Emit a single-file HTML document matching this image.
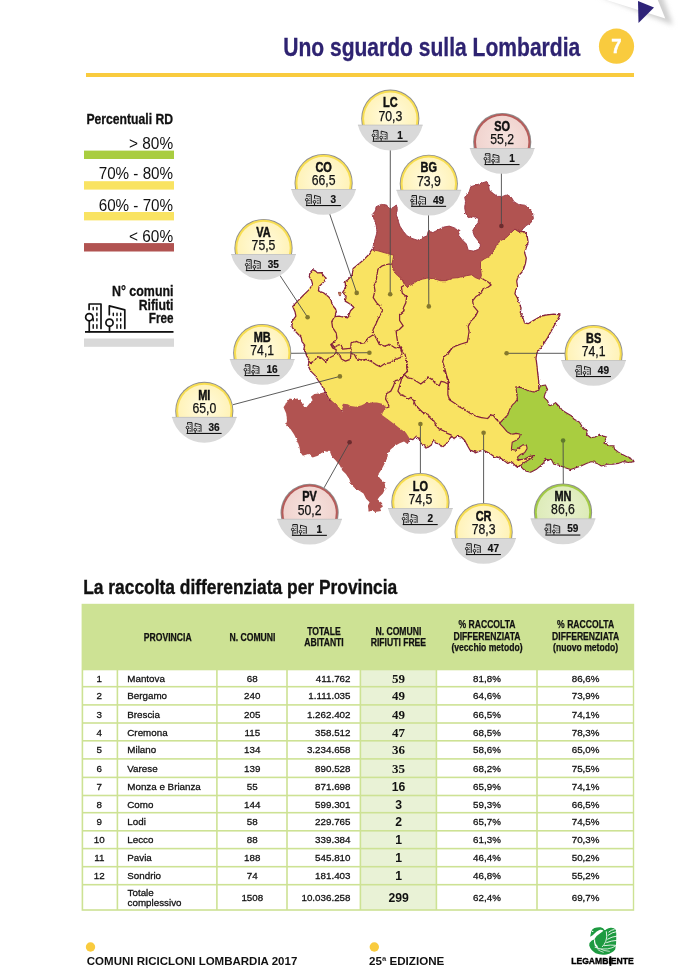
<!DOCTYPE html>
<html lang="it"><head><meta charset="utf-8"><title>Uno sguardo sulla Lombardia</title>
<style>html,body{margin:0;padding:0;background:#fff}body{width:681px;height:975px;overflow:hidden;position:relative}svg{position:absolute;left:0;top:0;display:block}text{font-family:"Liberation Sans",sans-serif}.sf{font-family:"Liberation Serif",serif}</style></head><body>
<svg width="681" height="975" viewBox="0 0 681 975">
<defs>
<radialGradient id="gy" cx="50%" cy="45%" r="60%"><stop offset="0" stop-color="#FFFBE2"/><stop offset="1" stop-color="#FFF1B0"/></radialGradient>
<radialGradient id="gr" cx="50%" cy="45%" r="60%"><stop offset="0" stop-color="#F6E3DF"/><stop offset="1" stop-color="#EFD0CB"/></radialGradient>
<radialGradient id="gg" cx="50%" cy="45%" r="60%"><stop offset="0" stop-color="#E8F1CF"/><stop offset="1" stop-color="#DBEAB4"/></radialGradient>
<linearGradient id="curl" x1="0" y1="0" x2="0.25" y2="1"><stop offset="0" stop-color="#d8d8d8"/><stop offset="0.6" stop-color="#efefef"/><stop offset="1" stop-color="#ffffff"/></linearGradient>
<g id="ico" fill="none" stroke="#111" stroke-width="1.7" stroke-linecap="round" stroke-linejoin="round">
 <path d="M4.1 11.5V6H16V30.4"/>
 <path d="M24.3 16.7V7.9L39.8 11.9V30.4"/>
 <g stroke-width="1.45">
 <path d="M8.2 9.5v2.2M11.9 9.5v2.2M11.9 15.2v2.2M8.2 20.6v2.2M11.9 20.6v2.2M8.2 26.6v3.6M11.9 26.6v3.6"/>
 <path d="M28.3 15.2v2.2M32 15.2v2.2M35.7 15.2v2.2M32 20.6v2.2M35.7 20.6v2.2M32 26.6v3.6M35.7 26.6v3.6"/>
 </g>
 <circle cx="4.25" cy="19.2" r="3.6" fill="#fff"/><path d="M4.25 22.8V33.5"/>
 <circle cx="24.5" cy="24.7" r="3.6" fill="#fff"/><path d="M24.5 28.3V33.5"/>
</g>
<g id="icos" fill="none" stroke="#111" stroke-width="0.95">
 <path d="M1.6 4.3V2.3H6.1V11.5M9.3 6.3V3L15.1 4.5V11.5"/>
 <path d="M3.1 3.6v.9M4.5 3.6v.9M4.5 5.8v.9M3.1 7.8v.9M4.5 7.8v.9M3.1 10v1.4M4.5 10v1.4M10.8 5.8v.9M12.2 5.8v.9M13.6 5.8v.9M12.2 7.8v.9M13.6 7.8v.9M12.2 10v1.4M13.6 10v1.4" stroke-width="0.8"/>
 <circle cx="1.6" cy="7.3" r="1.35" fill="#d9d9d9"/><path d="M1.6 8.7V12.7"/>
 <circle cx="9.3" cy="9.4" r="1.35" fill="#d9d9d9"/><path d="M9.3 10.8V12.7"/>
</g>
</defs>
<rect width="681" height="975" fill="#fff"/>
<filter id="bl" x="-20%" y="-50%" width="140%" height="200%"><feGaussianBlur stdDeviation="2.6"/></filter>
<polygon points="598,-5 662,-5 673,25 640,12" fill="#cfcfcf" filter="url(#bl)"/>
<polygon points="600,-2 657,-2 665.3,18.5" fill="#fff"/>
<polygon points="638,1 654,7.6 638.5,23" fill="#2E2378"/>
<text x="283.2" y="55.6" font-size="25" font-weight="bold" fill="#2E2371" text-anchor="start" textLength="297.0" lengthAdjust="spacingAndGlyphs" stroke="#2E2371" stroke-width="0.3">Uno sguardo sulla Lombardia</text>
<circle cx="616.5" cy="46.2" r="17.6" fill="#F9CB3E"/>
<text x="616.3" y="52.5" font-size="20.5" font-weight="bold" fill="#fff" text-anchor="middle" textLength="10.3" lengthAdjust="spacingAndGlyphs" stroke="#fff" stroke-width="0.5">7</text>
<rect x="86" y="73" width="548" height="4" fill="#F9CB3E"/>
<text x="86.4" y="123.5" font-size="14.8" font-weight="bold" fill="#111" text-anchor="start" textLength="86.7" lengthAdjust="spacingAndGlyphs" stroke="#111" stroke-width="0.3">Percentuali RD</text>
<text x="129.0" y="148.5" font-size="16.7" fill="#111" text-anchor="start" textLength="44.1" lengthAdjust="spacingAndGlyphs" >&gt; 80%</text>
<rect x="84" y="150.6" width="90" height="8.4" fill="#A9CD40"/>
<text x="98.7" y="179.3" font-size="16.7" fill="#111" text-anchor="start" textLength="74.4" lengthAdjust="spacingAndGlyphs" >70% - 80%</text>
<rect x="84" y="181.2" width="90" height="8.4" fill="#F9E362"/>
<text x="98.7" y="210.5" font-size="16.7" fill="#111" text-anchor="start" textLength="74.4" lengthAdjust="spacingAndGlyphs" >60% - 70%</text>
<rect x="84" y="212" width="90" height="8.4" fill="#F9E362"/>
<text x="129.0" y="241.5" font-size="16.7" fill="#111" text-anchor="start" textLength="44.1" lengthAdjust="spacingAndGlyphs" >&lt; 60%</text>
<rect x="84" y="243.1" width="90" height="8.4" fill="#B15351"/>
<text x="112.0" y="295.7" font-size="14.8" font-weight="bold" fill="#111" text-anchor="start" textLength="61.5" lengthAdjust="spacingAndGlyphs" stroke="#111" stroke-width="0.3">N° comuni</text>
<text x="138.7" y="309.5" font-size="14.8" font-weight="bold" fill="#111" text-anchor="start" textLength="34.8" lengthAdjust="spacingAndGlyphs" stroke="#111" stroke-width="0.3">Rifiuti</text>
<text x="148.8" y="323.0" font-size="14.8" font-weight="bold" fill="#111" text-anchor="start" textLength="24.7" lengthAdjust="spacingAndGlyphs" stroke="#111" stroke-width="0.3">Free</text>
<use href="#ico" x="85" y="298"/>
<rect x="85" y="331" width="88.5" height="1.8" fill="#111"/>
<rect x="84" y="338.5" width="90" height="8.3" fill="#D9D9D9"/>
<filter id="jag" x="-2%" y="-2%" width="104%" height="104%"><feTurbulence type="fractalNoise" baseFrequency="0.32" numOctaves="2" seed="7" result="n"/><feDisplacementMap in="SourceGraphic" in2="n" scale="2.6" xChannelSelector="R" yChannelSelector="G"/></filter>
<g filter="url(#jag)">
<polygon points="312.6,269.7 315.2,270.8 317.4,272.9 321.4,272.6 324.1,276.4 326.2,278.2 323.2,282.6 319.1,286.5 318.4,290.9 324.1,293.2 328.5,296.7 331.1,300.2 332.0,304.6 335.5,309.0 336.4,311.7 335.0,316.6 339.0,316.1 342.6,317.0 347.8,317.8 350.5,310.8 354.0,307.3 349.6,303.7 345.2,301.1 346.1,296.2 342.6,292.3 345.6,287.9 345.2,281.7 348.7,279.1 352.2,274.7 353.1,268.5 357.5,265.0 362.8,260.6 368.1,255.3 371.6,250.0 380,240 400,250 420,270 470,265 485,248 505,235 514.9,229.0 519.3,231.7 524.6,231.7 527.2,236.1 528.1,242.2 526.3,247.5 524.6,252.8 526.3,258.1 525.5,263.4 523.7,268.7 521.9,272.2 518.4,275.7 516.7,281.0 517.5,286.3 515.8,290.0 514.9,293.8 517.5,298.2 519.3,303.5 521.1,307.9 520.2,313.2 522.8,317.6 524.6,322.9 528.1,323.7 532.5,321.1 536.9,318.5 541.3,315.8 547.5,314.9 553.7,314.1 560.0,314.9 558.1,318.5 552.8,328.1 547.5,337.8 542.2,345.8 536.9,352.8 536.0,358.1 536.9,365.2 537.8,374.0 538.7,381.0 538.7,390.0 545,400 540,440 538,455 522,466 520.2,466.0 516.7,466.9 514.0,464.3 511.4,461.6 507.8,463.4 505.2,461.6 501.7,459.0 498.1,457.2 493.7,456.3 490.2,453.7 486.7,451.9 483.2,450.2 479.6,451.1 475.2,452.8 474.5,451.9 470.1,450.2 467.5,445.8 464.8,440.5 461.3,437.0 456.9,436.1 454.3,438.7 451.6,436.1 449.0,439.6 446.3,444.0 441.9,447.5 439.3,444.0 435.8,443.1 433.1,439.6 431.4,444.9 427.8,447.5 424.3,445.8 420.8,443.1 419.0,438.7 416.4,436.1 412.9,439.6 409.3,438.7 407.6,443.1 395,430 370,420 340,410 328.5,398.5 326.2,394.1 324.1,389.6 320.5,383.5 317.9,380.0 315.2,375.6 310.8,371.1 308.2,365.9 309.1,360.6 306.4,355.3 304.7,350.0 308.2,359.3 306.4,354.0 303.8,349.6 304.7,345.2 302.0,341.6 301.1,337.2 296.7,332.8 292.3,327.5 291.5,322.2 295.9,316.1 295.0,311.7 292.7,306.4 297.6,301.1 302.9,295.8 309.1,289.6 312.6,284.4 311.7,280.8 309.1,276.4 310.0,272.9" fill="#F9E362" stroke="#84203E" stroke-width="1.25" stroke-linejoin="round" />
<polyline points="334.4,317.0 331.7,321.5 332.6,327.6 336.1,332.9 337.0,338.2 334.4,341.7 330.8,344.4 332.6,347.9 336.1,349.6 336.1,352.3" fill="none" stroke="#84203E" stroke-width="1.25" stroke-linejoin="round"/>
<polyline points="336.1,352.3 333.5,355.8 328.2,358.5 325.6,361.5 321.1,357.6 317.6,356.7 314.1,361.1 310.6,362.9 308.5,361.1" fill="none" stroke="#84203E" stroke-width="1.25" stroke-linejoin="round"/>
<polyline points="330.8,344.4 334.4,347.4 337.9,345.2 341.4,344.4 342.3,349.1 350.7,348.4" fill="none" stroke="#84203E" stroke-width="1.25" stroke-linejoin="round"/>
<polyline points="336.1,352.3 339.6,354.1 341.4,359.0 345.5,361.1 350.2,359.3 351.1,353.2" fill="none" stroke="#84203E" stroke-width="1.25" stroke-linejoin="round"/>
<polyline points="351.1,342.6 356.4,341.4 360.8,343.5 365.2,342.6 367.8,338.2 374.0,334.3 376.7,339.1 379.3,344.4 384.6,346.1 389.9,344.4 395.2,347.9 400.4,347.4 402.2,353.2 400.4,357.6 395.2,359.3 389.9,362.9 384.6,363.7 380.2,366.7 375.8,364.6 370.5,361.1 366.1,359.3 361.7,360.2 356.4,358.5 354.6,354.9 351.1,353.2 350.7,347.9 351.1,342.6" fill="none" stroke="#84203E" stroke-width="1.25" stroke-linejoin="round"/>
<polyline points="392.0,264.0 387.6,264.0 382.3,265.8 377.9,269.3 377.0,274.6 376.1,281.6 374.1,285.3 375.0,290.6 373.2,297.6 376.7,302.9 380.3,306.4 382.0,311.7 378.5,317.9 375.9,324.1 373.2,329.3 372.3,332.9" fill="none" stroke="#84203E" stroke-width="1.25" stroke-linejoin="round"/>
<polyline points="404.3,285.2 401.4,287.0 402.3,293.2 406.7,296.7 405.8,302.9 403.2,308.2 404.1,310.8 399.6,314.4 399.6,320.5 403.2,325.8 399.6,329.3 396.1,331.1 397.0,338.1 397.9,343.4 399.6,346.1 402.3,350.5 404.9,354.0 406.7,361.1 406.7,368.1 407.6,371.6 404.1,374.3" fill="none" stroke="#84203E" stroke-width="1.25" stroke-linejoin="round"/>
<polyline points="404.1,374.3 407.6,377.8 412.0,378.7 416.4,381.3 420.8,384.0 425.2,380.4 427.8,376.9 432.2,379.6 435.8,384.0 439.3,385.7 441.1,381.3 444.6,382.2 448.1,384.0" fill="none" stroke="#84203E" stroke-width="1.25" stroke-linejoin="round"/>
<polyline points="481.4,277.9 484.1,279.7 488.5,282.3 491.1,285.0 487.6,287.6 483.2,288.5 481.4,292.9 476.1,296.4 472.6,300.8 473.5,306.1 477.9,311.4 475.2,316.7 470.8,321.1 468.2,326.4 469.1,331.7 468.2,337.0 467.3,342.2 461.1,344.0 455.9,345.8 451.5,348.4 448.8,352.8 444.4,356.3 442.6,361.6 444.4,366.9 446.2,374.0 447.9,381.0 448.8,390.0" fill="none" stroke="#84203E" stroke-width="1.25" stroke-linejoin="round"/>
<polyline points="443.5,370.0 446.2,375.3 448.8,381.5 447.9,387.6 447.9,394.7 449.7,400.0 455.0,403.5 459.4,407.0 464.7,409.6 470.0,413.2 475.2,415.8 481.4,417.6 487.6,418.5 490.2,415.8 492.9,414.9 495.5,418.5 499.0,422.0 499.9,423.7" fill="none" stroke="#84203E" stroke-width="1.25" stroke-linejoin="round"/>
<polyline points="404.1,374.3 399.6,379.7 395.2,380.6 393.5,385.9 390.8,391.1 386.4,393.8 385.6,399.1 388.2,403.5 389.1,407.0 386.4,407.9" fill="none" stroke="#84203E" stroke-width="1.25" stroke-linejoin="round"/>
<polyline points="404.1,374.3 401.4,379.7 399.6,385.9 397.9,391.1 400.5,394.7 404.9,396.4 408.5,399.1 411.1,397.3 413.7,400.8 415.5,405.2 419.0,408.8 422.6,412.3 427.8,414.1 430.5,418.5 434.0,421.1 435.8,425.5 439.3,429.0 443.7,430.8 447.2,433.4 451.6,435.2" fill="none" stroke="#84203E" stroke-width="1.25" stroke-linejoin="round"/>
<polyline points="518.4,459.9 524.6,458.8 529.9,456.3 534.3,455.5" fill="none" stroke="#84203E" stroke-width="1.25" stroke-linejoin="round"/>
<ellipse cx="340" cy="294" rx="1" ry="1.9" fill="#F9E362" stroke="#84203E" stroke-width="0.9"/>
<polygon points="372.6,249.9 373.5,244.6 375.2,238.5 377.0,232.3 376.1,225.2 374.4,220.0 372.1,214.7 375.2,211.1 376.1,206.7 381.4,204.4 386.7,205.0 388.5,208.5 392.9,207.6 396.4,205.0 397.3,209.4 396.4,214.7 398.1,220.8 399.9,226.1 403.4,231.4 407.0,235.8 412.2,238.5 417.5,240.2 422.8,237.6 427.2,235.8 428.1,231.4 433.4,232.3 438.7,229.6 444.0,227.0 449.3,226.1 454.5,227.9 460.0,230.5 458.5,235.2 462.0,239.6 466.4,244.0 468.2,250.2 473.5,251.1 478.8,249.3 480.5,244.9 477.9,240.5 474.4,236.1 472.6,230.8 475.2,226.4 477.9,222.9 478.8,218.5 473.5,216.7 468.2,217.6 465.6,213.2 464.7,207.9 465.6,201.7 464.7,197.3 469.1,192.0 470.8,186.7 476.1,185.0 481.4,183.2 486.7,181.5 488.5,185.0 489.3,190.3 493.7,193.8 497.3,196.4 502.6,196.4 507.0,194.7 511.4,197.3 514.0,201.7 518.4,204.4 524.6,205.2 529.0,207.9 532.5,213.2 533.4,218.5 530.7,222.9 526.3,225.5 522.8,229.0 521.1,231.7 517.5,230.8 514.9,229.0 510.5,233.4 506.1,237.8 500.8,240.5 496.4,244.9 493.7,251.1 489.3,256.3 484.1,259.0 480.5,261.6 480.5,268.7 481.4,275.7 479.6,279.3 475.2,277.5 471.7,274.8 466.4,275.7 459.4,277.5 452.8,278.1 445.7,280.7 440.4,280.7 435.2,279.0 428.1,278.1 422.8,279.0 417.5,280.7 412.2,284.3 407.0,286.9 404.3,284.3 401.7,279.0 396.4,274.6 392.9,269.3 392.0,264.0 392.9,259.6 393.7,255.2 390.2,254.3 384.1,252.6 377.9,250.8" fill="#B15351" stroke="#9A3644" stroke-width="0.9" stroke-linejoin="round" />
<polygon points="283.5,407.3 287.0,402.0 289.7,398.5 293.2,399.3 297.6,398.5 301.1,401.1 303.8,406.4 306.4,407.3 310.0,402.9 312.6,400.2 310.8,396.7 314.4,394.1 320.5,393.2 324.1,392.3 326.2,394.9 328.5,399.3 332.9,402.0 337.3,405.0 340.8,409.9 343.1,412.0 341.7,406.4 343.1,403.7 347.8,404.3 350.5,406.0 355.8,406.7 361.1,405.5 366.3,402.9 371.6,402.5 376.9,402.5 382.2,403.7 385.7,406.7 386.4,407.9 382.9,412.3 382.0,415.0 388.1,419.4 395.2,424.7 400.5,429.1 405.8,432.6 409.3,437.9 407.5,444.1 404.0,441.4 399.6,443.2 395.2,445.8 390.8,449.3 388.1,452.9 387.3,458.1 384.6,463.4 382.0,468.7 378.5,474.0 380.2,478.4 384.6,482.8 385.5,488.1 382.9,493.4 379.3,496.9 377.6,499.6 382.0,503.1 382.9,506.6 380.2,508.4 381.1,511.0 374.9,511.9 372.3,510.1 368.8,511.9 367.9,505.7 369.6,502.2 366.1,498.7 363.5,493.4 358.2,489.9 354.7,488.1 351.1,484.6 349.4,479.3 345.9,474.0 342.3,470.5 339.7,465.2 335.3,459.9 331.8,456.4 330.2,452.2 325.8,451.3 321.4,453.1 317.9,455.7 312.6,457.5 308.2,454.0 302.9,455.7 300.3,452.2 299.4,446.9 297.6,441.6 294.1,434.6 290.6,429.3 286.2,425.8 287.0,420.5 286.2,413.4" fill="#B15351" />
<polygon points="515.8,386.7 521.1,387.6 527.2,390.3 533.4,392.0 538.7,390.3 540.4,385.9 545.7,385.0 545.9,385.9 547.6,389.4 545.0,393.8 544.1,397.3 547.6,400.8 549.4,406.1 552.9,404.4 555.6,402.6 559.1,406.1 562.6,410.5 567.0,413.2 571.4,415.8 574.1,419.3 579.3,422.0 582.0,426.4 584.6,429.0 587.3,430.8 586.4,434.3 590.8,437.8 595.2,437.0 599.6,434.3 603.1,436.1 606.7,437.0 604.9,440.5 604.0,443.1 609.3,445.8 613.7,445.8 614.6,449.3 618.1,451.9 622.5,454.6 627.8,457.2 633.1,459.9 634.0,461.6 628.7,462.5 623.4,461.6 618.1,463.4 612.8,464.3 607.5,464.3 601.4,466.0 597.0,463.4 591.7,461.6 586.4,463.4 581.1,466.0 575.8,467.8 570.5,469.6 565.2,467.8 559.1,465.2 553.8,464.3 551.1,459.0 547.6,460.7 545.0,458.1 544.0,462.5 540.4,466.0 536.0,469.6 530.7,472.2 526.3,471.3 522.8,468.7 520.2,466.0 522.8,463.4 527.2,460.7 531.6,458.1 534.3,455.5 529.9,456.3 524.6,459.0 518.4,459.9 517.5,457.2 520.2,454.6 524.6,452.8 527.2,448.4 526.3,444.9 522.8,444.9 519.3,447.5 515.8,450.2 511.4,449.3 512.2,442.2 515.8,440.5 519.3,437.8 520.2,434.3 516.7,433.4 511.4,434.3 507.0,431.7 503.4,427.3 499.9,423.7 500.8,422.0 504.3,418.5 507.8,414.9 509.6,409.6 512.2,405.2 514.9,402.6 517.5,399.1 516.7,392.9" fill="#A9CD40" stroke="#84203E" stroke-width="1.1" stroke-linejoin="round" />
</g>
<line x1="280" y1="275.5" x2="307.6" y2="317.3" stroke="#4a4a4a" stroke-width="0.9"/>
<circle cx="307.6" cy="317.3" r="2.3" fill="#85782C"/>
<line x1="329.7" y1="214" x2="356.7" y2="292.9" stroke="#4a4a4a" stroke-width="0.9"/>
<circle cx="356.7" cy="292.9" r="2.3" fill="#85782C"/>
<line x1="390.3" y1="150" x2="390.2" y2="294.2" stroke="#4a4a4a" stroke-width="0.9"/>
<circle cx="390.2" cy="294.2" r="2.3" fill="#85782C"/>
<line x1="428.5" y1="215" x2="428.8" y2="306.4" stroke="#4a4a4a" stroke-width="0.9"/>
<circle cx="428.8" cy="306.4" r="2.3" fill="#85782C"/>
<line x1="501.4" y1="173" x2="501.4" y2="226" stroke="#4a4a4a" stroke-width="0.9"/>
<circle cx="501.4" cy="226" r="2.3" fill="#6B2B2E"/>
<line x1="565" y1="353.3" x2="506.6" y2="353.3" stroke="#4a4a4a" stroke-width="0.9"/>
<circle cx="506.6" cy="353.3" r="2.3" fill="#85782C"/>
<line x1="291" y1="353.3" x2="369.4" y2="352.7" stroke="#4a4a4a" stroke-width="0.9"/>
<circle cx="369.4" cy="352.7" r="2.3" fill="#85782C"/>
<line x1="233" y1="404.7" x2="339.9" y2="376.4" stroke="#4a4a4a" stroke-width="0.9"/>
<circle cx="339.9" cy="376.4" r="2.3" fill="#85782C"/>
<line x1="324" y1="487.9" x2="349.6" y2="442.3" stroke="#4a4a4a" stroke-width="0.9"/>
<circle cx="349.6" cy="442.3" r="2.3" fill="#6B2B2E"/>
<line x1="420.4" y1="473.5" x2="420.4" y2="424" stroke="#4a4a4a" stroke-width="0.9"/>
<circle cx="420.4" cy="424" r="2.3" fill="#85782C"/>
<line x1="483.6" y1="503.5" x2="483.6" y2="432.7" stroke="#4a4a4a" stroke-width="0.9"/>
<circle cx="483.6" cy="432.7" r="2.3" fill="#85782C"/>
<line x1="563.3" y1="484" x2="563.1" y2="440.5" stroke="#4a4a4a" stroke-width="0.9"/>
<circle cx="563.1" cy="440.5" r="2.3" fill="#5F7A2B"/>
<g transform="translate(390.3,118.7)">
<circle r="29.1" fill="#8f8f8f"/><circle r="28.2" fill="#F8DE52"/><circle r="26.2" fill="url(#gy)"/>
<path d="M-32.4 6.2H32.4A33.3 33.3 0 0 1 -32.4 6.2Z" fill="#D9D9D9"/>
<rect x="-32.4" y="6" width="64.8" height="0.7" fill="#bdbdbd"/>
<use href="#icos" x="-18.4" y="9.4"/>
<rect x="-17.7" y="22.0" width="35" height="1.1" fill="#111"/>
</g>
<text x="390.3" y="107.3" font-size="14.4" font-weight="bold" fill="#111" text-anchor="middle" textLength="14.6" lengthAdjust="spacingAndGlyphs" stroke="#111" stroke-width="0.5">LC</text>
<text x="390.3" y="120.5" font-size="14.4" fill="#111" text-anchor="middle" textLength="23.8" lengthAdjust="spacingAndGlyphs" stroke="#111" stroke-width="0.25">70,3</text>
<text x="400.1" y="138.5" font-size="10.6" font-weight="bold" fill="#111" text-anchor="middle" textLength="5.6" lengthAdjust="spacingAndGlyphs" stroke="#111" stroke-width="0.2">1</text>
<g transform="translate(502.2,142)">
<circle r="29.1" fill="#8f8f8f"/><circle r="28.2" fill="#B65C5A"/><circle r="26.2" fill="url(#gr)"/>
<path d="M-32.4 6.2H32.4A33.3 33.3 0 0 1 -32.4 6.2Z" fill="#D9D9D9"/>
<rect x="-32.4" y="6" width="64.8" height="0.7" fill="#bdbdbd"/>
<use href="#icos" x="-18.4" y="9.4"/>
<rect x="-17.7" y="22.0" width="35" height="1.1" fill="#111"/>
</g>
<text x="502.2" y="130.6" font-size="14.4" font-weight="bold" fill="#111" text-anchor="middle" textLength="15.8" lengthAdjust="spacingAndGlyphs" stroke="#111" stroke-width="0.5">SO</text>
<text x="502.2" y="143.8" font-size="14.4" fill="#111" text-anchor="middle" textLength="23.8" lengthAdjust="spacingAndGlyphs" stroke="#111" stroke-width="0.25">55,2</text>
<text x="512.0" y="161.8" font-size="10.6" font-weight="bold" fill="#111" text-anchor="middle" textLength="5.6" lengthAdjust="spacingAndGlyphs" stroke="#111" stroke-width="0.2">1</text>
<g transform="translate(323.6,183)">
<circle r="29.1" fill="#8f8f8f"/><circle r="28.2" fill="#F8DE52"/><circle r="26.2" fill="url(#gy)"/>
<path d="M-32.4 6.2H32.4A33.3 33.3 0 0 1 -32.4 6.2Z" fill="#D9D9D9"/>
<rect x="-32.4" y="6" width="64.8" height="0.7" fill="#bdbdbd"/>
<use href="#icos" x="-18.4" y="9.4"/>
<rect x="-17.7" y="22.0" width="35" height="1.1" fill="#111"/>
</g>
<text x="323.6" y="171.6" font-size="14.4" font-weight="bold" fill="#111" text-anchor="middle" textLength="16.4" lengthAdjust="spacingAndGlyphs" stroke="#111" stroke-width="0.5">CO</text>
<text x="323.6" y="184.8" font-size="14.4" fill="#111" text-anchor="middle" textLength="23.8" lengthAdjust="spacingAndGlyphs" stroke="#111" stroke-width="0.25">66,5</text>
<text x="333.4" y="202.8" font-size="10.6" font-weight="bold" fill="#111" text-anchor="middle" textLength="5.6" lengthAdjust="spacingAndGlyphs" stroke="#111" stroke-width="0.2">3</text>
<g transform="translate(428.8,183.8)">
<circle r="29.1" fill="#8f8f8f"/><circle r="28.2" fill="#F8DE52"/><circle r="26.2" fill="url(#gy)"/>
<path d="M-32.4 6.2H32.4A33.3 33.3 0 0 1 -32.4 6.2Z" fill="#D9D9D9"/>
<rect x="-32.4" y="6" width="64.8" height="0.7" fill="#bdbdbd"/>
<use href="#icos" x="-18.4" y="9.4"/>
<rect x="-17.7" y="22.0" width="35" height="1.1" fill="#111"/>
</g>
<text x="428.8" y="172.4" font-size="14.4" font-weight="bold" fill="#111" text-anchor="middle" textLength="16.4" lengthAdjust="spacingAndGlyphs" stroke="#111" stroke-width="0.5">BG</text>
<text x="428.8" y="185.6" font-size="14.4" fill="#111" text-anchor="middle" textLength="23.8" lengthAdjust="spacingAndGlyphs" stroke="#111" stroke-width="0.25">73,9</text>
<text x="438.6" y="203.6" font-size="10.6" font-weight="bold" fill="#111" text-anchor="middle" textLength="11.2" lengthAdjust="spacingAndGlyphs" stroke="#111" stroke-width="0.2">49</text>
<g transform="translate(263.5,248)">
<circle r="29.1" fill="#8f8f8f"/><circle r="28.2" fill="#F8DE52"/><circle r="26.2" fill="url(#gy)"/>
<path d="M-32.4 6.2H32.4A33.3 33.3 0 0 1 -32.4 6.2Z" fill="#D9D9D9"/>
<rect x="-32.4" y="6" width="64.8" height="0.7" fill="#bdbdbd"/>
<use href="#icos" x="-18.4" y="9.4"/>
<rect x="-17.7" y="22.0" width="35" height="1.1" fill="#111"/>
</g>
<text x="263.5" y="236.6" font-size="14.4" font-weight="bold" fill="#111" text-anchor="middle" textLength="14.4" lengthAdjust="spacingAndGlyphs" stroke="#111" stroke-width="0.5">VA</text>
<text x="263.5" y="249.8" font-size="14.4" fill="#111" text-anchor="middle" textLength="23.8" lengthAdjust="spacingAndGlyphs" stroke="#111" stroke-width="0.25">75,5</text>
<text x="273.3" y="267.8" font-size="10.6" font-weight="bold" fill="#111" text-anchor="middle" textLength="11.2" lengthAdjust="spacingAndGlyphs" stroke="#111" stroke-width="0.2">35</text>
<g transform="translate(262.2,353)">
<circle r="29.1" fill="#8f8f8f"/><circle r="28.2" fill="#F8DE52"/><circle r="26.2" fill="url(#gy)"/>
<path d="M-32.4 6.2H32.4A33.3 33.3 0 0 1 -32.4 6.2Z" fill="#D9D9D9"/>
<rect x="-32.4" y="6" width="64.8" height="0.7" fill="#bdbdbd"/>
<use href="#icos" x="-18.4" y="9.4"/>
<rect x="-17.7" y="22.0" width="35" height="1.1" fill="#111"/>
</g>
<text x="262.2" y="341.6" font-size="14.4" font-weight="bold" fill="#111" text-anchor="middle" textLength="17.0" lengthAdjust="spacingAndGlyphs" stroke="#111" stroke-width="0.5">MB</text>
<text x="262.2" y="354.8" font-size="14.4" fill="#111" text-anchor="middle" textLength="23.8" lengthAdjust="spacingAndGlyphs" stroke="#111" stroke-width="0.25">74,1</text>
<text x="272.0" y="372.8" font-size="10.6" font-weight="bold" fill="#111" text-anchor="middle" textLength="11.2" lengthAdjust="spacingAndGlyphs" stroke="#111" stroke-width="0.2">16</text>
<g transform="translate(204.3,410.9)">
<circle r="29.1" fill="#8f8f8f"/><circle r="28.2" fill="#F8DE52"/><circle r="26.2" fill="url(#gy)"/>
<path d="M-32.4 6.2H32.4A33.3 33.3 0 0 1 -32.4 6.2Z" fill="#D9D9D9"/>
<rect x="-32.4" y="6" width="64.8" height="0.7" fill="#bdbdbd"/>
<use href="#icos" x="-18.4" y="9.4"/>
<rect x="-17.7" y="22.0" width="35" height="1.1" fill="#111"/>
</g>
<text x="204.3" y="399.5" font-size="14.4" font-weight="bold" fill="#111" text-anchor="middle" textLength="12.2" lengthAdjust="spacingAndGlyphs" stroke="#111" stroke-width="0.5">MI</text>
<text x="204.3" y="412.7" font-size="14.4" fill="#111" text-anchor="middle" textLength="23.8" lengthAdjust="spacingAndGlyphs" stroke="#111" stroke-width="0.25">65,0</text>
<text x="214.1" y="430.7" font-size="10.6" font-weight="bold" fill="#111" text-anchor="middle" textLength="11.2" lengthAdjust="spacingAndGlyphs" stroke="#111" stroke-width="0.2">36</text>
<g transform="translate(593.6,354)">
<circle r="29.1" fill="#8f8f8f"/><circle r="28.2" fill="#F8DE52"/><circle r="26.2" fill="url(#gy)"/>
<path d="M-32.4 6.2H32.4A33.3 33.3 0 0 1 -32.4 6.2Z" fill="#D9D9D9"/>
<rect x="-32.4" y="6" width="64.8" height="0.7" fill="#bdbdbd"/>
<use href="#icos" x="-18.4" y="9.4"/>
<rect x="-17.7" y="22.0" width="35" height="1.1" fill="#111"/>
</g>
<text x="593.6" y="342.6" font-size="14.4" font-weight="bold" fill="#111" text-anchor="middle" textLength="15.2" lengthAdjust="spacingAndGlyphs" stroke="#111" stroke-width="0.5">BS</text>
<text x="593.6" y="355.8" font-size="14.4" fill="#111" text-anchor="middle" textLength="23.8" lengthAdjust="spacingAndGlyphs" stroke="#111" stroke-width="0.25">74,1</text>
<text x="603.4" y="373.8" font-size="10.6" font-weight="bold" fill="#111" text-anchor="middle" textLength="11.2" lengthAdjust="spacingAndGlyphs" stroke="#111" stroke-width="0.2">49</text>
<g transform="translate(309.6,512.8)">
<circle r="29.1" fill="#8f8f8f"/><circle r="28.2" fill="#B65C5A"/><circle r="26.2" fill="url(#gr)"/>
<path d="M-32.4 6.2H32.4A33.3 33.3 0 0 1 -32.4 6.2Z" fill="#D9D9D9"/>
<rect x="-32.4" y="6" width="64.8" height="0.7" fill="#bdbdbd"/>
<use href="#icos" x="-18.4" y="9.4"/>
<rect x="-17.7" y="22.0" width="35" height="1.1" fill="#111"/>
</g>
<text x="309.6" y="501.4" font-size="14.4" font-weight="bold" fill="#111" text-anchor="middle" textLength="14.6" lengthAdjust="spacingAndGlyphs" stroke="#111" stroke-width="0.5">PV</text>
<text x="309.6" y="514.6" font-size="14.4" fill="#111" text-anchor="middle" textLength="23.8" lengthAdjust="spacingAndGlyphs" stroke="#111" stroke-width="0.25">50,2</text>
<text x="319.4" y="532.6" font-size="10.6" font-weight="bold" fill="#111" text-anchor="middle" textLength="5.6" lengthAdjust="spacingAndGlyphs" stroke="#111" stroke-width="0.2">1</text>
<g transform="translate(420.4,502)">
<circle r="29.1" fill="#8f8f8f"/><circle r="28.2" fill="#F8DE52"/><circle r="26.2" fill="url(#gy)"/>
<path d="M-32.4 6.2H32.4A33.3 33.3 0 0 1 -32.4 6.2Z" fill="#D9D9D9"/>
<rect x="-32.4" y="6" width="64.8" height="0.7" fill="#bdbdbd"/>
<use href="#icos" x="-18.4" y="9.4"/>
<rect x="-17.7" y="22.0" width="35" height="1.1" fill="#111"/>
</g>
<text x="420.4" y="490.6" font-size="14.4" font-weight="bold" fill="#111" text-anchor="middle" textLength="15.2" lengthAdjust="spacingAndGlyphs" stroke="#111" stroke-width="0.5">LO</text>
<text x="420.4" y="503.8" font-size="14.4" fill="#111" text-anchor="middle" textLength="23.8" lengthAdjust="spacingAndGlyphs" stroke="#111" stroke-width="0.25">74,5</text>
<text x="430.2" y="521.8" font-size="10.6" font-weight="bold" fill="#111" text-anchor="middle" textLength="5.6" lengthAdjust="spacingAndGlyphs" stroke="#111" stroke-width="0.2">2</text>
<g transform="translate(483.6,532)">
<circle r="29.1" fill="#8f8f8f"/><circle r="28.2" fill="#F8DE52"/><circle r="26.2" fill="url(#gy)"/>
<path d="M-32.4 6.2H32.4A33.3 33.3 0 0 1 -32.4 6.2Z" fill="#D9D9D9"/>
<rect x="-32.4" y="6" width="64.8" height="0.7" fill="#bdbdbd"/>
<use href="#icos" x="-18.4" y="9.4"/>
<rect x="-17.7" y="22.0" width="35" height="1.1" fill="#111"/>
</g>
<text x="483.6" y="520.6" font-size="14.4" font-weight="bold" fill="#111" text-anchor="middle" textLength="15.8" lengthAdjust="spacingAndGlyphs" stroke="#111" stroke-width="0.5">CR</text>
<text x="483.6" y="533.8" font-size="14.4" fill="#111" text-anchor="middle" textLength="23.8" lengthAdjust="spacingAndGlyphs" stroke="#111" stroke-width="0.25">78,3</text>
<text x="493.4" y="551.8" font-size="10.6" font-weight="bold" fill="#111" text-anchor="middle" textLength="11.2" lengthAdjust="spacingAndGlyphs" stroke="#111" stroke-width="0.2">47</text>
<g transform="translate(563,512.5)">
<circle r="29.1" fill="#8f8f8f"/><circle r="28.2" fill="#A3CB45"/><circle r="26.2" fill="url(#gg)"/>
<path d="M-32.4 6.2H32.4A33.3 33.3 0 0 1 -32.4 6.2Z" fill="#D9D9D9"/>
<rect x="-32.4" y="6" width="64.8" height="0.7" fill="#bdbdbd"/>
<use href="#icos" x="-18.4" y="9.4"/>
<rect x="-17.7" y="22.0" width="35" height="1.1" fill="#111"/>
</g>
<text x="563.0" y="501.1" font-size="14.4" font-weight="bold" fill="#111" text-anchor="middle" textLength="17.0" lengthAdjust="spacingAndGlyphs" stroke="#111" stroke-width="0.5">MN</text>
<text x="563.0" y="514.3" font-size="14.4" fill="#111" text-anchor="middle" textLength="23.8" lengthAdjust="spacingAndGlyphs" stroke="#111" stroke-width="0.25">86,6</text>
<text x="572.8" y="532.3" font-size="10.6" font-weight="bold" fill="#111" text-anchor="middle" textLength="11.2" lengthAdjust="spacingAndGlyphs" stroke="#111" stroke-width="0.2">59</text>
<text x="83.2" y="594.4" font-size="19.8" font-weight="bold" fill="#111" text-anchor="start" textLength="314.0" lengthAdjust="spacingAndGlyphs" stroke="#111" stroke-width="0.35">La raccolta differenziata per Provincia</text>
<rect x="81.6" y="603.8" width="552.6" height="307.0" fill="#CDE294"/>
<rect x="83.20" y="670.30" width="33.40" height="15.60" fill="#fff"/>
<rect x="118.20" y="670.30" width="97.90" height="15.60" fill="#fff"/>
<rect x="217.70" y="670.30" width="68.50" height="15.60" fill="#fff"/>
<rect x="287.80" y="670.30" width="71.80" height="15.60" fill="#fff"/>
<rect x="361.20" y="670.30" width="74.40" height="15.60" fill="#E9F2D6"/>
<rect x="437.20" y="670.30" width="99.00" height="15.60" fill="#fff"/>
<rect x="537.80" y="670.30" width="95.00" height="15.60" fill="#fff"/>
<rect x="83.20" y="687.50" width="33.40" height="16.60" fill="#fff"/>
<rect x="118.20" y="687.50" width="97.90" height="16.60" fill="#fff"/>
<rect x="217.70" y="687.50" width="68.50" height="16.60" fill="#fff"/>
<rect x="287.80" y="687.50" width="71.80" height="16.60" fill="#fff"/>
<rect x="361.20" y="687.50" width="74.40" height="16.60" fill="#E9F2D6"/>
<rect x="437.20" y="687.50" width="99.00" height="16.60" fill="#fff"/>
<rect x="537.80" y="687.50" width="95.00" height="16.60" fill="#fff"/>
<rect x="83.20" y="705.70" width="33.40" height="16.50" fill="#fff"/>
<rect x="118.20" y="705.70" width="97.90" height="16.50" fill="#fff"/>
<rect x="217.70" y="705.70" width="68.50" height="16.50" fill="#fff"/>
<rect x="287.80" y="705.70" width="71.80" height="16.50" fill="#fff"/>
<rect x="361.20" y="705.70" width="74.40" height="16.50" fill="#E9F2D6"/>
<rect x="437.20" y="705.70" width="99.00" height="16.50" fill="#fff"/>
<rect x="537.80" y="705.70" width="95.00" height="16.50" fill="#fff"/>
<rect x="83.20" y="723.80" width="33.40" height="16.20" fill="#fff"/>
<rect x="118.20" y="723.80" width="97.90" height="16.20" fill="#fff"/>
<rect x="217.70" y="723.80" width="68.50" height="16.20" fill="#fff"/>
<rect x="287.80" y="723.80" width="71.80" height="16.20" fill="#fff"/>
<rect x="361.20" y="723.80" width="74.40" height="16.20" fill="#E9F2D6"/>
<rect x="437.20" y="723.80" width="99.00" height="16.20" fill="#fff"/>
<rect x="537.80" y="723.80" width="95.00" height="16.20" fill="#fff"/>
<rect x="83.20" y="741.60" width="33.40" height="16.50" fill="#fff"/>
<rect x="118.20" y="741.60" width="97.90" height="16.50" fill="#fff"/>
<rect x="217.70" y="741.60" width="68.50" height="16.50" fill="#fff"/>
<rect x="287.80" y="741.60" width="71.80" height="16.50" fill="#fff"/>
<rect x="361.20" y="741.60" width="74.40" height="16.50" fill="#E9F2D6"/>
<rect x="437.20" y="741.60" width="99.00" height="16.50" fill="#fff"/>
<rect x="537.80" y="741.60" width="95.00" height="16.50" fill="#fff"/>
<rect x="83.20" y="759.70" width="33.40" height="16.90" fill="#fff"/>
<rect x="118.20" y="759.70" width="97.90" height="16.90" fill="#fff"/>
<rect x="217.70" y="759.70" width="68.50" height="16.90" fill="#fff"/>
<rect x="287.80" y="759.70" width="71.80" height="16.90" fill="#fff"/>
<rect x="361.20" y="759.70" width="74.40" height="16.90" fill="#E9F2D6"/>
<rect x="437.20" y="759.70" width="99.00" height="16.90" fill="#fff"/>
<rect x="537.80" y="759.70" width="95.00" height="16.90" fill="#fff"/>
<rect x="83.20" y="778.20" width="33.40" height="16.50" fill="#fff"/>
<rect x="118.20" y="778.20" width="97.90" height="16.50" fill="#fff"/>
<rect x="217.70" y="778.20" width="68.50" height="16.50" fill="#fff"/>
<rect x="287.80" y="778.20" width="71.80" height="16.50" fill="#fff"/>
<rect x="361.20" y="778.20" width="74.40" height="16.50" fill="#E9F2D6"/>
<rect x="437.20" y="778.20" width="99.00" height="16.50" fill="#fff"/>
<rect x="537.80" y="778.20" width="95.00" height="16.50" fill="#fff"/>
<rect x="83.20" y="796.30" width="33.40" height="15.60" fill="#fff"/>
<rect x="118.20" y="796.30" width="97.90" height="15.60" fill="#fff"/>
<rect x="217.70" y="796.30" width="68.50" height="15.60" fill="#fff"/>
<rect x="287.80" y="796.30" width="71.80" height="15.60" fill="#fff"/>
<rect x="361.20" y="796.30" width="74.40" height="15.60" fill="#E9F2D6"/>
<rect x="437.20" y="796.30" width="99.00" height="15.60" fill="#fff"/>
<rect x="537.80" y="796.30" width="95.00" height="15.60" fill="#fff"/>
<rect x="83.20" y="813.50" width="33.40" height="16.50" fill="#fff"/>
<rect x="118.20" y="813.50" width="97.90" height="16.50" fill="#fff"/>
<rect x="217.70" y="813.50" width="68.50" height="16.50" fill="#fff"/>
<rect x="287.80" y="813.50" width="71.80" height="16.50" fill="#fff"/>
<rect x="361.20" y="813.50" width="74.40" height="16.50" fill="#E9F2D6"/>
<rect x="437.20" y="813.50" width="99.00" height="16.50" fill="#fff"/>
<rect x="537.80" y="813.50" width="95.00" height="16.50" fill="#fff"/>
<rect x="83.20" y="831.60" width="33.40" height="16.20" fill="#fff"/>
<rect x="118.20" y="831.60" width="97.90" height="16.20" fill="#fff"/>
<rect x="217.70" y="831.60" width="68.50" height="16.20" fill="#fff"/>
<rect x="287.80" y="831.60" width="71.80" height="16.20" fill="#fff"/>
<rect x="361.20" y="831.60" width="74.40" height="16.20" fill="#E9F2D6"/>
<rect x="437.20" y="831.60" width="99.00" height="16.20" fill="#fff"/>
<rect x="537.80" y="831.60" width="95.00" height="16.20" fill="#fff"/>
<rect x="83.20" y="849.40" width="33.40" height="16.50" fill="#fff"/>
<rect x="118.20" y="849.40" width="97.90" height="16.50" fill="#fff"/>
<rect x="217.70" y="849.40" width="68.50" height="16.50" fill="#fff"/>
<rect x="287.80" y="849.40" width="71.80" height="16.50" fill="#fff"/>
<rect x="361.20" y="849.40" width="74.40" height="16.50" fill="#E9F2D6"/>
<rect x="437.20" y="849.40" width="99.00" height="16.50" fill="#fff"/>
<rect x="537.80" y="849.40" width="95.00" height="16.50" fill="#fff"/>
<rect x="83.20" y="867.50" width="33.40" height="16.40" fill="#fff"/>
<rect x="118.20" y="867.50" width="97.90" height="16.40" fill="#fff"/>
<rect x="217.70" y="867.50" width="68.50" height="16.40" fill="#fff"/>
<rect x="287.80" y="867.50" width="71.80" height="16.40" fill="#fff"/>
<rect x="361.20" y="867.50" width="74.40" height="16.40" fill="#E9F2D6"/>
<rect x="437.20" y="867.50" width="99.00" height="16.40" fill="#fff"/>
<rect x="537.80" y="867.50" width="95.00" height="16.40" fill="#fff"/>
<rect x="83.20" y="885.50" width="33.40" height="23.70" fill="#fff"/>
<rect x="118.20" y="885.50" width="97.90" height="23.70" fill="#fff"/>
<rect x="217.70" y="885.50" width="68.50" height="23.70" fill="#fff"/>
<rect x="287.80" y="885.50" width="71.80" height="23.70" fill="#fff"/>
<rect x="361.20" y="885.50" width="74.40" height="23.70" fill="#E9F2D6"/>
<rect x="437.20" y="885.50" width="99.00" height="23.70" fill="#fff"/>
<rect x="537.80" y="885.50" width="95.00" height="23.70" fill="#fff"/>
<text x="167.7" y="640.8" font-size="10.3" font-weight="bold" fill="#111" text-anchor="middle" textLength="47.8" lengthAdjust="spacingAndGlyphs" stroke="#111" stroke-width="0.25">PROVINCIA</text>
<text x="252.5" y="640.8" font-size="10.3" font-weight="bold" fill="#111" text-anchor="middle" textLength="45.9" lengthAdjust="spacingAndGlyphs" stroke="#111" stroke-width="0.25">N. COMUNI</text>
<text x="324.0" y="635.2" font-size="10.3" font-weight="bold" fill="#111" text-anchor="middle" textLength="33.6" lengthAdjust="spacingAndGlyphs" stroke="#111" stroke-width="0.25">TOTALE</text>
<text x="324.0" y="646.4" font-size="10.3" font-weight="bold" fill="#111" text-anchor="middle" textLength="39.5" lengthAdjust="spacingAndGlyphs" stroke="#111" stroke-width="0.25">ABITANTI</text>
<text x="398.4" y="635.2" font-size="10.3" font-weight="bold" fill="#111" text-anchor="middle" textLength="45.9" lengthAdjust="spacingAndGlyphs" stroke="#111" stroke-width="0.25">N. COMUNI</text>
<text x="398.4" y="646.4" font-size="10.3" font-weight="bold" fill="#111" text-anchor="middle" textLength="55.4" lengthAdjust="spacingAndGlyphs" stroke="#111" stroke-width="0.25">RIFIUTI FREE</text>
<text x="487.0" y="628.2" font-size="10.3" font-weight="bold" fill="#111" text-anchor="middle" textLength="57.0" lengthAdjust="spacingAndGlyphs" stroke="#111" stroke-width="0.25">% RACCOLTA</text>
<text x="487.0" y="639.8" font-size="10.3" font-weight="bold" fill="#111" text-anchor="middle" textLength="67.0" lengthAdjust="spacingAndGlyphs" stroke="#111" stroke-width="0.25">DIFFERENZIATA</text>
<text x="487.0" y="651.4" font-size="10.3" font-weight="bold" fill="#111" text-anchor="middle" textLength="71.2" lengthAdjust="spacingAndGlyphs" stroke="#111" stroke-width="0.25">(vecchio metodo)</text>
<text x="585.6" y="628.2" font-size="10.3" font-weight="bold" fill="#111" text-anchor="middle" textLength="57.0" lengthAdjust="spacingAndGlyphs" stroke="#111" stroke-width="0.25">% RACCOLTA</text>
<text x="585.6" y="639.8" font-size="10.3" font-weight="bold" fill="#111" text-anchor="middle" textLength="67.0" lengthAdjust="spacingAndGlyphs" stroke="#111" stroke-width="0.25">DIFFERENZIATA</text>
<text x="585.6" y="651.4" font-size="10.3" font-weight="bold" fill="#111" text-anchor="middle" textLength="65.0" lengthAdjust="spacingAndGlyphs" stroke="#111" stroke-width="0.25">(nuovo metodo)</text>
<text x="99.3" y="682.1" font-size="9.8" fill="#111" text-anchor="middle" stroke="#111" stroke-width="0.28">1</text>
<text x="127.3" y="682.1" font-size="9.8" fill="#111" text-anchor="start" stroke="#111" stroke-width="0.28">Mantova</text>
<text x="252.3" y="682.1" font-size="9.8" fill="#111" text-anchor="middle" stroke="#111" stroke-width="0.28">68</text>
<text x="350.5" y="682.1" font-size="9.8" fill="#111" text-anchor="end" stroke="#111" stroke-width="0.28">411.762</text>
<text x="398.6" y="683.1" font-size="13" font-weight="bold" fill="#111" text-anchor="middle" class="sf">59</text>
<text x="487.0" y="682.1" font-size="9.8" fill="#111" text-anchor="middle" stroke="#111" stroke-width="0.28">81,8%</text>
<text x="585.6" y="682.1" font-size="9.8" fill="#111" text-anchor="middle" stroke="#111" stroke-width="0.28">86,6%</text>
<text x="99.3" y="699.4" font-size="9.8" fill="#111" text-anchor="middle" stroke="#111" stroke-width="0.28">2</text>
<text x="127.3" y="699.4" font-size="9.8" fill="#111" text-anchor="start" stroke="#111" stroke-width="0.28">Bergamo</text>
<text x="252.3" y="699.4" font-size="9.8" fill="#111" text-anchor="middle" stroke="#111" stroke-width="0.28">240</text>
<text x="350.5" y="699.4" font-size="9.8" fill="#111" text-anchor="end" stroke="#111" stroke-width="0.28">1.111.035</text>
<text x="398.6" y="700.4" font-size="13" font-weight="bold" fill="#111" text-anchor="middle" class="sf">49</text>
<text x="487.0" y="699.4" font-size="9.8" fill="#111" text-anchor="middle" stroke="#111" stroke-width="0.28">64,6%</text>
<text x="585.6" y="699.4" font-size="9.8" fill="#111" text-anchor="middle" stroke="#111" stroke-width="0.28">73,9%</text>
<text x="99.3" y="717.6" font-size="9.8" fill="#111" text-anchor="middle" stroke="#111" stroke-width="0.28">3</text>
<text x="127.3" y="717.6" font-size="9.8" fill="#111" text-anchor="start" stroke="#111" stroke-width="0.28">Brescia</text>
<text x="252.3" y="717.6" font-size="9.8" fill="#111" text-anchor="middle" stroke="#111" stroke-width="0.28">205</text>
<text x="350.5" y="717.6" font-size="9.8" fill="#111" text-anchor="end" stroke="#111" stroke-width="0.28">1.262.402</text>
<text x="398.6" y="718.6" font-size="13" font-weight="bold" fill="#111" text-anchor="middle" class="sf">49</text>
<text x="487.0" y="717.6" font-size="9.8" fill="#111" text-anchor="middle" stroke="#111" stroke-width="0.28">66,5%</text>
<text x="585.6" y="717.6" font-size="9.8" fill="#111" text-anchor="middle" stroke="#111" stroke-width="0.28">74,1%</text>
<text x="99.3" y="735.5" font-size="9.8" fill="#111" text-anchor="middle" stroke="#111" stroke-width="0.28">4</text>
<text x="127.3" y="735.5" font-size="9.8" fill="#111" text-anchor="start" stroke="#111" stroke-width="0.28">Cremona</text>
<text x="252.3" y="735.5" font-size="9.8" fill="#111" text-anchor="middle" stroke="#111" stroke-width="0.28">115</text>
<text x="350.5" y="735.5" font-size="9.8" fill="#111" text-anchor="end" stroke="#111" stroke-width="0.28">358.512</text>
<text x="398.6" y="736.5" font-size="13" font-weight="bold" fill="#111" text-anchor="middle" class="sf">47</text>
<text x="487.0" y="735.5" font-size="9.8" fill="#111" text-anchor="middle" stroke="#111" stroke-width="0.28">68,5%</text>
<text x="585.6" y="735.5" font-size="9.8" fill="#111" text-anchor="middle" stroke="#111" stroke-width="0.28">78,3%</text>
<text x="99.3" y="753.4" font-size="9.8" fill="#111" text-anchor="middle" stroke="#111" stroke-width="0.28">5</text>
<text x="127.3" y="753.4" font-size="9.8" fill="#111" text-anchor="start" stroke="#111" stroke-width="0.28">Milano</text>
<text x="252.3" y="753.4" font-size="9.8" fill="#111" text-anchor="middle" stroke="#111" stroke-width="0.28">134</text>
<text x="350.5" y="753.4" font-size="9.8" fill="#111" text-anchor="end" stroke="#111" stroke-width="0.28">3.234.658</text>
<text x="398.6" y="754.4" font-size="13" font-weight="bold" fill="#111" text-anchor="middle" class="sf">36</text>
<text x="487.0" y="753.4" font-size="9.8" fill="#111" text-anchor="middle" stroke="#111" stroke-width="0.28">58,6%</text>
<text x="585.6" y="753.4" font-size="9.8" fill="#111" text-anchor="middle" stroke="#111" stroke-width="0.28">65,0%</text>
<text x="99.3" y="771.8" font-size="9.8" fill="#111" text-anchor="middle" stroke="#111" stroke-width="0.28">6</text>
<text x="127.3" y="771.8" font-size="9.8" fill="#111" text-anchor="start" stroke="#111" stroke-width="0.28">Varese</text>
<text x="252.3" y="771.8" font-size="9.8" fill="#111" text-anchor="middle" stroke="#111" stroke-width="0.28">139</text>
<text x="350.5" y="771.8" font-size="9.8" fill="#111" text-anchor="end" stroke="#111" stroke-width="0.28">890.528</text>
<text x="398.6" y="772.8" font-size="13" font-weight="bold" fill="#111" text-anchor="middle" class="sf">35</text>
<text x="487.0" y="771.8" font-size="9.8" fill="#111" text-anchor="middle" stroke="#111" stroke-width="0.28">68,2%</text>
<text x="585.6" y="771.8" font-size="9.8" fill="#111" text-anchor="middle" stroke="#111" stroke-width="0.28">75,5%</text>
<text x="99.3" y="790.1" font-size="9.8" fill="#111" text-anchor="middle" stroke="#111" stroke-width="0.28">7</text>
<text x="127.3" y="790.1" font-size="9.8" fill="#111" text-anchor="start" stroke="#111" stroke-width="0.28">Monza e Brianza</text>
<text x="252.3" y="790.1" font-size="9.8" fill="#111" text-anchor="middle" stroke="#111" stroke-width="0.28">55</text>
<text x="350.5" y="790.1" font-size="9.8" fill="#111" text-anchor="end" stroke="#111" stroke-width="0.28">871.698</text>
<text x="398.6" y="791.1" font-size="12.2" font-weight="bold" fill="#111" text-anchor="middle" >16</text>
<text x="487.0" y="790.1" font-size="9.8" fill="#111" text-anchor="middle" stroke="#111" stroke-width="0.28">65,9%</text>
<text x="585.6" y="790.1" font-size="9.8" fill="#111" text-anchor="middle" stroke="#111" stroke-width="0.28">74,1%</text>
<text x="99.3" y="807.7" font-size="9.8" fill="#111" text-anchor="middle" stroke="#111" stroke-width="0.28">8</text>
<text x="127.3" y="807.7" font-size="9.8" fill="#111" text-anchor="start" stroke="#111" stroke-width="0.28">Como</text>
<text x="252.3" y="807.7" font-size="9.8" fill="#111" text-anchor="middle" stroke="#111" stroke-width="0.28">144</text>
<text x="350.5" y="807.7" font-size="9.8" fill="#111" text-anchor="end" stroke="#111" stroke-width="0.28">599.301</text>
<text x="398.6" y="808.7" font-size="12.2" font-weight="bold" fill="#111" text-anchor="middle" >3</text>
<text x="487.0" y="807.7" font-size="9.8" fill="#111" text-anchor="middle" stroke="#111" stroke-width="0.28">59,3%</text>
<text x="585.6" y="807.7" font-size="9.8" fill="#111" text-anchor="middle" stroke="#111" stroke-width="0.28">66,5%</text>
<text x="99.3" y="825.4" font-size="9.8" fill="#111" text-anchor="middle" stroke="#111" stroke-width="0.28">9</text>
<text x="127.3" y="825.4" font-size="9.8" fill="#111" text-anchor="start" stroke="#111" stroke-width="0.28">Lodi</text>
<text x="252.3" y="825.4" font-size="9.8" fill="#111" text-anchor="middle" stroke="#111" stroke-width="0.28">58</text>
<text x="350.5" y="825.4" font-size="9.8" fill="#111" text-anchor="end" stroke="#111" stroke-width="0.28">229.765</text>
<text x="398.6" y="826.4" font-size="12.2" font-weight="bold" fill="#111" text-anchor="middle" >2</text>
<text x="487.0" y="825.4" font-size="9.8" fill="#111" text-anchor="middle" stroke="#111" stroke-width="0.28">65,7%</text>
<text x="585.6" y="825.4" font-size="9.8" fill="#111" text-anchor="middle" stroke="#111" stroke-width="0.28">74,5%</text>
<text x="99.3" y="843.3" font-size="9.8" fill="#111" text-anchor="middle" stroke="#111" stroke-width="0.28">10</text>
<text x="127.3" y="843.3" font-size="9.8" fill="#111" text-anchor="start" stroke="#111" stroke-width="0.28">Lecco</text>
<text x="252.3" y="843.3" font-size="9.8" fill="#111" text-anchor="middle" stroke="#111" stroke-width="0.28">88</text>
<text x="350.5" y="843.3" font-size="9.8" fill="#111" text-anchor="end" stroke="#111" stroke-width="0.28">339.384</text>
<text x="398.6" y="844.3" font-size="12.2" font-weight="bold" fill="#111" text-anchor="middle" >1</text>
<text x="487.0" y="843.3" font-size="9.8" fill="#111" text-anchor="middle" stroke="#111" stroke-width="0.28">61,3%</text>
<text x="585.6" y="843.3" font-size="9.8" fill="#111" text-anchor="middle" stroke="#111" stroke-width="0.28">70,3%</text>
<text x="99.3" y="861.3" font-size="9.8" fill="#111" text-anchor="middle" stroke="#111" stroke-width="0.28">11</text>
<text x="127.3" y="861.3" font-size="9.8" fill="#111" text-anchor="start" stroke="#111" stroke-width="0.28">Pavia</text>
<text x="252.3" y="861.3" font-size="9.8" fill="#111" text-anchor="middle" stroke="#111" stroke-width="0.28">188</text>
<text x="350.5" y="861.3" font-size="9.8" fill="#111" text-anchor="end" stroke="#111" stroke-width="0.28">545.810</text>
<text x="398.6" y="862.3" font-size="12.2" font-weight="bold" fill="#111" text-anchor="middle" >1</text>
<text x="487.0" y="861.3" font-size="9.8" fill="#111" text-anchor="middle" stroke="#111" stroke-width="0.28">46,4%</text>
<text x="585.6" y="861.3" font-size="9.8" fill="#111" text-anchor="middle" stroke="#111" stroke-width="0.28">50,2%</text>
<text x="99.3" y="879.3" font-size="9.8" fill="#111" text-anchor="middle" stroke="#111" stroke-width="0.28">12</text>
<text x="127.3" y="879.3" font-size="9.8" fill="#111" text-anchor="start" stroke="#111" stroke-width="0.28">Sondrio</text>
<text x="252.3" y="879.3" font-size="9.8" fill="#111" text-anchor="middle" stroke="#111" stroke-width="0.28">74</text>
<text x="350.5" y="879.3" font-size="9.8" fill="#111" text-anchor="end" stroke="#111" stroke-width="0.28">181.403</text>
<text x="398.6" y="880.3" font-size="12.2" font-weight="bold" fill="#111" text-anchor="middle" >1</text>
<text x="487.0" y="879.3" font-size="9.8" fill="#111" text-anchor="middle" stroke="#111" stroke-width="0.28">46,8%</text>
<text x="585.6" y="879.3" font-size="9.8" fill="#111" text-anchor="middle" stroke="#111" stroke-width="0.28">55,2%</text>
<text x="99.3" y="901.0" font-size="9.8" fill="#111" text-anchor="middle" stroke="#111" stroke-width="0.28"></text>
<text x="127.6" y="896.1" font-size="9.8" fill="#111" text-anchor="start" stroke="#111" stroke-width="0.28">Totale</text>
<text x="127.6" y="906.0" font-size="9.8" fill="#111" text-anchor="start" stroke="#111" stroke-width="0.28">complessivo</text>
<text x="252.3" y="901.0" font-size="9.8" fill="#111" text-anchor="middle" stroke="#111" stroke-width="0.28">1508</text>
<text x="350.5" y="901.0" font-size="9.8" fill="#111" text-anchor="end" stroke="#111" stroke-width="0.28">10.036.258</text>
<text x="398.6" y="902.0" font-size="12.2" font-weight="bold" fill="#111" text-anchor="middle" >299</text>
<text x="487.0" y="901.0" font-size="9.8" fill="#111" text-anchor="middle" stroke="#111" stroke-width="0.28">62,4%</text>
<text x="585.6" y="901.0" font-size="9.8" fill="#111" text-anchor="middle" stroke="#111" stroke-width="0.28">69,7%</text>
<circle cx="90.5" cy="947" r="4.7" fill="#F9CB3E"/><circle cx="374.3" cy="947" r="4.7" fill="#F9CB3E"/>
<text x="86.8" y="965.4" font-size="10.6" font-weight="bold" fill="#111" text-anchor="start" textLength="210.5" lengthAdjust="spacingAndGlyphs" >COMUNI RICICLONI LOMBARDIA 2017</text>
<text x="369.1" y="965.4" font-size="10.6" font-weight="bold" fill="#111" text-anchor="start" textLength="75.2" lengthAdjust="spacingAndGlyphs" >25ª EDIZIONE</text>
<g transform="translate(583,922) scale(0.05872)">
<path d="M122 250L138 170Q148 122 195 104Q250 84 300 90Q350 98 365 138Q420 108 470 100Q530 95 560 135Q572 200 566 300Q566 400 548 470Q500 535 400 552Q300 568 215 532Q130 480 106 400Q100 350 150 315Q170 300 190 296Q235 222 305 182Q330 168 348 150Q325 128 290 134Q240 150 165 226Z" fill="#1D9A40"/>
<path d="M190 300Q180 350 200 400Q230 455 300 480Q245 440 225 400Q203 345 205 292Z" fill="#fff"/>
<path d="M222 398L240 440L252 425L232 380Z" fill="#fff"/>
<g fill="none" stroke="#fff" stroke-linecap="round">
<path d="M398 165Q418 260 388 330Q362 390 330 420" stroke-width="15"/>
<path d="M440 170Q480 135 530 128" stroke-width="15"/>
<path d="M428 225Q490 175 585 160" stroke-width="15"/>
<path d="M418 292Q490 250 585 238" stroke-width="15"/>
<path d="M402 350Q480 318 585 312" stroke-width="15"/>
<path d="M365 402Q460 385 580 398" stroke-width="14"/>
<path d="M205 432Q300 475 420 458Q500 445 552 412" stroke-width="13"/>
<path d="M255 472Q290 500 345 515M305 462Q340 492 450 500" stroke-width="12"/>
</g>
<path d="M352 96L372 140L432 100Z" fill="#fff"/>
<circle cx="165" cy="160" r="11" fill="#fff"/>
</g>
<text x="571.2" y="964.3" font-size="8.7" font-weight="bold" fill="#000" text-anchor="start" textLength="62.5" lengthAdjust="spacingAndGlyphs" stroke="#000" stroke-width="0.35">LEGAMBIENTE</text>
<rect x="609.5" y="956.3" width="1.8" height="9.6" fill="#000"/>
</svg></body></html>
